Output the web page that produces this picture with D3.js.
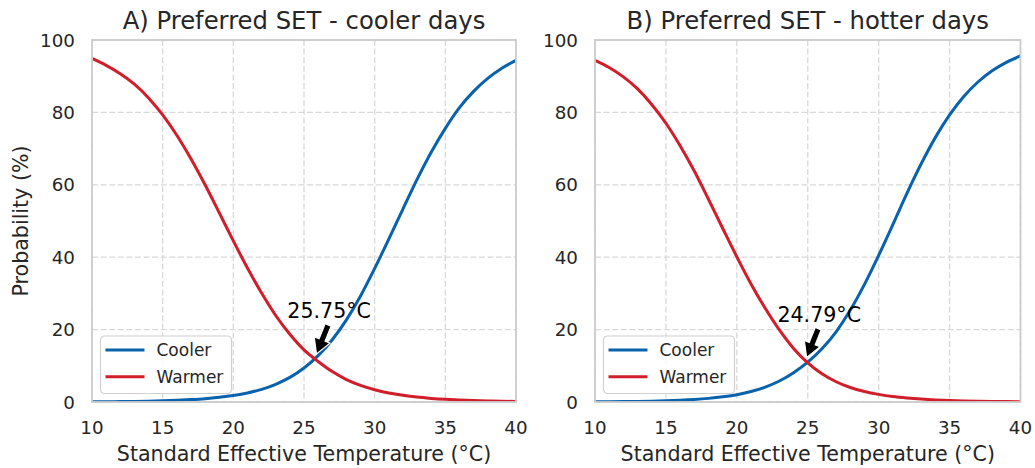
<!DOCTYPE html>
<html>
<head>
<meta charset="utf-8">
<script src="https://cdn.jsdelivr.net/npm/d3@7"></script>
<style>
  body { margin: 0; background: #fff; }
  text { font-family: "DejaVu Sans", sans-serif; }
</style>
</head>
<body>
<div id="chart"></div>
<script>
var temps = [10, 11, 12, 13, 14, 15, 16, 17, 18, 19, 20, 21, 22, 23, 24, 25,
             26, 27, 28, 29, 30, 31, 32, 33, 34, 35, 36, 37, 38, 39, 40];

// A) cooler days
var coolerA = [0.06, 0.08, 0.11, 0.16, 0.23, 0.33, 0.47, 0.66, 0.92, 1.3, 1.8, 2.5, 3.5, 4.9, 6.8, 9.4,
               12.8, 17.2, 22.7, 29.3, 36.9, 45.0, 53.3, 61.5, 69.0, 75.6, 81.3, 85.8, 89.4, 92.2, 94.4];
var warmerA = [94.9, 93.0, 90.7, 87.8, 84.0, 79.3, 73.7, 67.2, 60.0, 52.3, 44.5, 37.0, 30.1, 23.9, 18.7, 14.4,
               11.2, 8.4, 6.2, 4.6, 3.4, 2.5, 1.85, 1.35, 1.0, 0.73, 0.53, 0.39, 0.28, 0.2, 0.15];

// B) hotter days
var coolerB = [0.06, 0.08, 0.12, 0.17, 0.24, 0.34, 0.49, 0.7, 1.0, 1.42, 2.0, 2.9, 4.1, 5.8, 8.1, 11.0,
               14.7, 19.4, 25.4, 32.5, 40.5, 49.0, 57.7, 65.8, 73.1, 79.3, 84.4, 88.4, 91.5, 93.8, 95.6];
var warmerB = [94.4, 92.4, 89.8, 86.5, 82.2, 77.0, 70.8, 63.8, 56.0, 48.0, 40.1, 32.6, 25.9, 19.9, 14.8, 10.8,
               7.8, 5.6, 4.0, 2.9, 2.1, 1.5, 1.1, 0.8, 0.58, 0.42, 0.3, 0.22, 0.16, 0.12, 0.09];

var titles = ["A) Preferred SET - cooler days", "B) Preferred SET - hotter days"];
var crossX = [25.75, 24.79];
var crossY = [12.0, 11.0];
var crossLabels = ["25.75°C", "24.79°C"];
var xTicks = [10, 15, 20, 25, 30, 35, 40];
var yTicks = [0, 20, 40, 60, 80, 100];
var seriesNames = ["Cooler", "Warmer"];

var blue = "#0862ac", red = "#d01e2a";
var textCol = "#262626";

var W = 1035, H = 468;
var svg = d3.select("#chart").append("svg")
    .attr("width", W)
    .attr("height", H);

var panels = [
  {left: 92, right: 516, cooler: coolerA, warmer: warmerA},
  {left: 595, right: 1020.5, cooler: coolerB, warmer: warmerB}
];
var plotTop = 40, plotBottom = 402;

panels.forEach(function(p, i) {
    var x = d3.scaleLinear().domain([10, 40]).range([p.left, p.right]);
    var y = d3.scaleLinear().domain([0, 100]).range([plotBottom, plotTop]);

    var g = svg.append("g");

    // clip
    g.append("clipPath").attr("id", "clip" + i)
      .append("rect")
        .attr("x", p.left).attr("y", plotTop)
        .attr("width", p.right - p.left).attr("height", plotBottom - plotTop);

    // grid
    g.selectAll(".vgrid").data(xTicks).enter().append("line")
        .attr("x1", function(d) { return x(d); })
        .attr("x2", function(d) { return x(d); })
        .attr("y1", plotTop).attr("y2", plotBottom)
        .attr("stroke", "#d9d9d9").attr("stroke-width", 1.3)
        .attr("stroke-dasharray", "6,2.6");
    g.selectAll(".hgrid").data(yTicks).enter().append("line")
        .attr("x1", p.left).attr("x2", p.right)
        .attr("y1", function(d) { return y(d); })
        .attr("y2", function(d) { return y(d); })
        .attr("stroke", "#d9d9d9").attr("stroke-width", 1.3)
        .attr("stroke-dasharray", "6,2.6");

    // curves
    var line = d3.line()
        .x(function(d) { return x(d[0]); })
        .y(function(d) { return y(d[1]); })
        .curve(d3.curveMonotoneX);

    var curves = [d3.zip(temps, p.cooler), d3.zip(temps, p.warmer)];
    [blue, red].forEach(function(c, k) {
        g.append("path")
            .datum(curves[k])
            .attr("clip-path", "url(#clip" + i + ")")
            .attr("fill", "none")
            .attr("stroke", c)
            .attr("stroke-width", 3)
            .attr("d", line);
    });

    // spines
    g.append("rect")
        .attr("x", p.left).attr("y", plotTop)
        .attr("width", p.right - p.left).attr("height", plotBottom - plotTop)
        .attr("fill", "none")
        .attr("stroke", "#cccccc").attr("stroke-width", 1.8);

    // tick labels
    g.selectAll(".xt").data(xTicks).enter().append("text")
        .attr("x", function(d) { return x(d); })
        .attr("y", plotBottom + 32)
        .attr("text-anchor", "middle")
        .attr("font-size", 18.3)
        .attr("fill", textCol)
        .text(function(d) { return d; });
    g.selectAll(".yt").data(yTicks).enter().append("text")
        .attr("x", p.left - 17)
        .attr("y", function(d) { return y(d); })
        .attr("dy", "0.36em")
        .attr("text-anchor", "end")
        .attr("font-size", 18.3)
        .attr("fill", textCol)
        .text(function(d) { return d; });

    // title and x label
    g.append("text")
        .attr("x", (p.left + p.right) / 2).attr("y", 29)
        .attr("text-anchor", "middle")
        .attr("font-size", 24.3)
        .attr("fill", textCol)
        .text(titles[i]);
    g.append("text")
        .attr("x", (p.left + p.right) / 2).attr("y", plotBottom + 59)
        .attr("text-anchor", "middle")
        .attr("font-size", 20.6)
        .attr("fill", textCol)
        .text("Standard Effective Temperature (°C)");

    // legend
    var lg = g.append("g").attr("transform", "translate(" + (p.left + 8.5) + "," + 336 + ")");
    lg.append("rect")
        .attr("width", 131).attr("height", 57.5)
        .attr("rx", 4).attr("ry", 4)
        .attr("fill", "#fff").attr("fill-opacity", 0.8)
        .attr("stroke", "#d0d0d0").attr("stroke-width", 1.2);
    [blue, red].forEach(function(c, k) {
        lg.append("line")
            .attr("x1", 5).attr("x2", 44)
            .attr("y1", 14 + k * 26.7).attr("y2", 14 + k * 26.7)
            .attr("stroke", c).attr("stroke-width", 3);
        lg.append("text")
            .attr("x", 56).attr("y", 14 + k * 26.7)
            .attr("dy", "0.36em")
            .attr("font-size", 17)
            .attr("fill", textCol)
            .text(seriesNames[k]);
    });

    // annotation
    var cx = x(crossX[i]), cy = y(crossY[i]);
    var lab = g.append("text")
        .attr("x", x(crossX[i] - 1.93))
        .attr("y", y(crossY[i] + 11.2))
        .attr("font-size", 20.6)
        .attr("fill", "#000")
        .text(crossLabels[i]);
    var bb = lab.node().getBBox();
    // arrow starts just under the label centre and points at the crossing
    var tail = [bb.x + bb.width / 2 - 1, bb.y + bb.height + 2];
    var dx = cx - tail[0], dy = cy - tail[1], d = Math.sqrt(dx * dx + dy * dy);
    var ux = dx / d, uy = dy / d, nx = -uy, ny = ux;
    var tip = [cx - ux * 5, cy - uy * 5];
    var hl = 15, hw = 8.5, sw = 3.2;
    var base = [tip[0] - ux * hl, tip[1] - uy * hl];
    var pts = [
      [tail[0] + nx * sw, tail[1] + ny * sw],
      [base[0] + nx * sw, base[1] + ny * sw],
      [base[0] + nx * hw, base[1] + ny * hw],
      tip,
      [base[0] - nx * hw, base[1] - ny * hw],
      [base[0] - nx * sw, base[1] - ny * sw],
      [tail[0] - nx * sw, tail[1] - ny * sw]
    ];
    g.append("path")
        .attr("d", "M" + pts.map(function(q) { return q.join(","); }).join("L") + "Z")
        .attr("fill", "#000")
        .attr("stroke", "#fff")
        .attr("stroke-width", 1.2);
});

// y axis label (left panel only)
svg.append("text")
    .attr("transform", "translate(21," + ((plotTop + plotBottom) / 2) + ") rotate(-90)")
    .attr("text-anchor", "middle")
    .attr("dy", "0.36em")
    .attr("font-size", 20.6)
    .attr("fill", textCol)
    .text("Probability (%)");
</script>
</body>
</html>
